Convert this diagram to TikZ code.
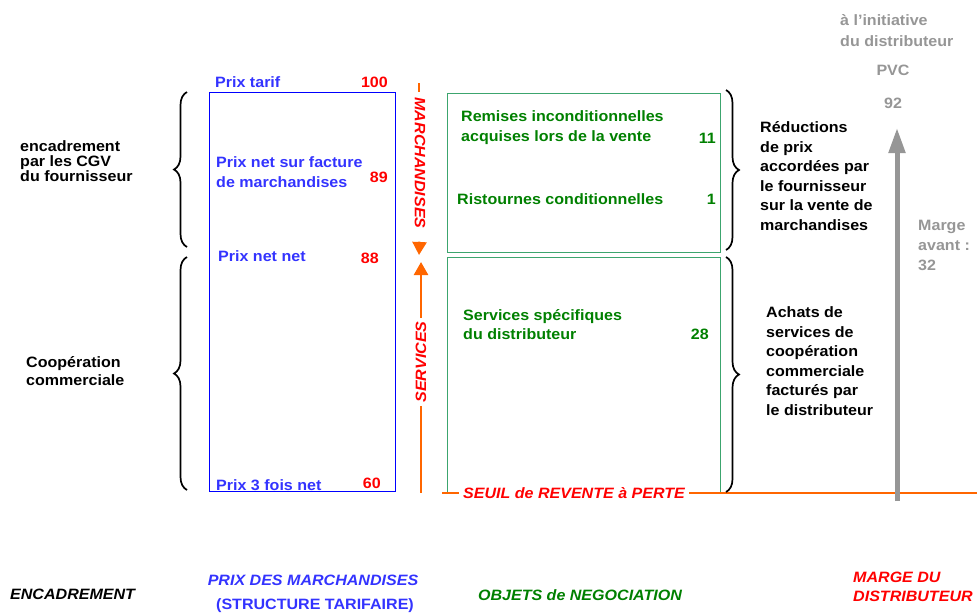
\documentclass[tikz,border=0pt]{standalone}
\usepackage{fontspec}
\setmainfont{Liberation Sans}[FakeStretch=1.07]
\usetikzlibrary{positioning, arrows.meta, decorations.pathreplacing}
\definecolor{bleu}{RGB}{0,0,255}
\definecolor{bleutexte}{RGB}{51,51,255}
\definecolor{rouge}{RGB}{255,0,0}
\definecolor{orangevif}{RGB}{255,102,0}
\definecolor{vertcadre}{RGB}{60,165,110}
\definecolor{verttexte}{RGB}{0,128,0}
\definecolor{gris}{RGB}{150,150,150}
\tikzset{
	texte/.style={font=\bfseries\fontsize{15}{#1}\selectfont, align=left, inner sep=0pt, anchor=west}, % bold labels
	texte/.default=19,
	titre/.style={font=\bfseries\itshape\fontsize{15}{19}\selectfont, align=left, inner sep=0pt}, % italic headings
	valeur/.style={texte, text=rouge, anchor=east}, % red numbers
	cadreprix/.style={draw=bleu, line width=1.2pt, anchor=north west, inner sep=0pt},
	cadrevert/.style={draw=vertcadre, line width=0.9pt, anchor=north west, inner sep=0pt},
	accolade/.style={decorate, decoration={brace, amplitude=13pt}, line width=1.7pt}, % curly braces
	trait/.style={draw=orangevif, line width=2.5pt},
	fleche/.style={trait, -{Triangle[width=14pt, length=13pt]}},
	marge/.style={draw=gris, line width=5pt, -{Triangle[width=16pt, length=25pt]}},
}

\begin{document}
\begin{tikzpicture}[x=1pt, y=-1pt]
	\useasboundingbox (0,0) rectangle (977,614);

	% structure tarifaire
	\node[cadreprix, minimum width=186pt, minimum height=399pt] (prix) at (209,92) {};
	\node[texte, text=bleutexte] (tarif) at (215,82) {Prix tarif};
	\node[valeur] (v100) at (388,82) {100};
	\node[texte=20, text=bleutexte] (pnf) at (216,172) {Prix net sur facture\\de marchandises};
	\node[valeur] (v89) at (388,177) {89};
	\node[texte, text=bleutexte] (pnn) at (218,256) {Prix net net};
	\node[valeur] (v88) at (379,258) {88};
	\node[texte, text=bleutexte] (p3f) at (216,485) {Prix 3 fois net};
	\node[valeur] (v60) at (381,483) {60};

	% objets de negociation
	\node[cadrevert, minimum width=273pt, minimum height=159pt] (remises) at (447,93) {};
	\node[cadrevert, minimum width=273pt, minimum height=236pt] (servbox) at (447,257) {};
	\node[texte=20, text=verttexte] (rinc) at (461,128) {Remises inconditionnelles\\acquises lors de la vente};
	\node[valeur, text=verttexte] (v11) at (716,138) {11};
	\node[texte, text=verttexte] (rist) at (457,199) {Ristournes conditionnelles};
	\node[valeur, text=verttexte] (v1) at (716,199) {1};
	\node[texte, text=verttexte] (sspec) at (463,325) {Services spécifiques\\du distributeur};
	\node[valeur, text=verttexte] (v28) at (709,334) {28};

	% seuil de revente a perte
	\coordinate (seuilg) at (442,493);
	\coordinate (seuild) at (977,493);
	\draw[trait] (seuilg) -- (seuild);
	\node[titre, text=rouge, fill=white, inner xsep=4pt, inner ysep=1pt] (seuil) at (574,493) {SEUIL de REVENTE à PERTE};

	% fleches marchandises / services
	\coordinate (hmarch) at (419,83);
	\coordinate (bmarch) at (419,92);
	\coordinate (pmarch) at (419,255);
	\draw[trait] (hmarch) -- (bmarch);
	\node[titre, text=rouge, rotate=-90, inner sep=2pt] (march) at (420,163) {MARCHANDISES};
	\draw[fleche, shorten <=11pt] (march.east) -- (pmarch);
	\coordinate (pserv) at (421,262);
	\coordinate (bserv) at (421,493);
	\node[titre, text=rouge, rotate=90, inner sep=3pt] (serv) at (421,362) {SERVICES};
	\draw[fleche] (serv.east) -- (pserv);
	\draw[trait] (serv.west) -- (bserv);

	% accolades
	\draw[accolade] (187,247) -- (187,92);
	\draw[accolade] (187,490) -- (187,257);
	\draw[accolade] (726,90) -- (726,250);
	\draw[accolade] (726,257) -- (726,492);

	% encadrement
	\node[texte=15] (cgv) at (20,161) {encadrement\\par les CGV\\du fournisseur};
	\node[texte=18] (coop) at (26,371) {Coopération\\commerciale};

	% textes de droite
	\node[texte=19.5] (reduc) at (760,176) {Réductions\\de prix\\accordées par\\le fournisseur\\sur la vente de\\marchandises};
	\node[texte=19.5] (achats) at (766,361) {Achats de\\services de\\coopération\\commerciale\\facturés par\\le distributeur};

	% marge du distributeur
	\node[texte=21, text=gris] (init) at (840,31) {à l’initiative\\du distributeur};
	\node[texte, text=gris, anchor=center] (pvc) at (893,70) {PVC};
	\node[texte, text=gris, anchor=center] (v92) at (893,103) {92};
	\coordinate (bmarge) at (897,501);
	\coordinate (pmarge) at (897,128);
	\draw[marge] (bmarge) -- (pmarge);
	\node[texte=20, text=gris] (avant) at (918,245) {Marge\\avant :\\32};

	% titres du bas
	\node[titre, anchor=west] (tencadr) at (10,594) {ENCADREMENT};
	\node[titre, text=bleutexte] (tprix) at (313,580) {PRIX DES MARCHANDISES};
	\node[texte, text=bleutexte, anchor=center] (tstruct) at (315,606) {(STRUCTURE TARIFAIRE)};
	\node[titre, text=verttexte] (tobjets) at (580,595) {OBJETS de NEGOCIATION};
	\node[titre, text=rouge, anchor=west] (tmarge) at (853,587) {MARGE DU\\DISTRIBUTEUR};
\end{tikzpicture}
\end{document}
